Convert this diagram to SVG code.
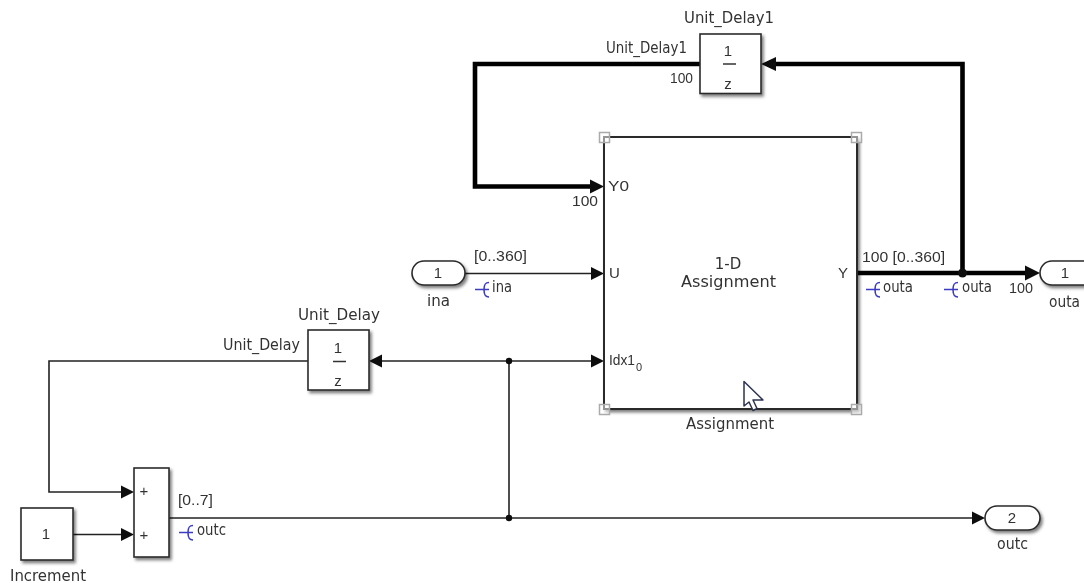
<svg xmlns="http://www.w3.org/2000/svg" width="1084" height="583" viewBox="0 0 1084 583">
<style>
text{font-family:"DejaVu Sans","Liberation Sans",sans-serif;font-size:15px;fill:#333}
.n{font-family:"Liberation Sans",Arial,sans-serif}
.m{text-anchor:middle}
.b{fill:#fff;stroke:#2a2a2a;stroke-width:1.6;filter:url(#sh)}
.w{fill:none;stroke:#222;stroke-width:1.6}
.t{fill:none;stroke:#000;stroke-width:4.600}
.j{fill:#111}
.h{fill:#fff;fill-opacity:.5;stroke:#aaa;stroke-width:1.5}
.e{fill:none;stroke:#3a3ac4;stroke-width:1.6}
.bar{stroke:#333;stroke-width:1.5}
</style>
<defs>
<filter id="sh" x="-20%" y="-20%" width="150%" height="150%"><feDropShadow dx="2" dy="2.500" stdDeviation="1.800" flood-color="#000" flood-opacity=".5"/></filter>
<filter id="soft" x="0" y="0" width="1084" height="583" filterUnits="userSpaceOnUse" primitiveUnits="userSpaceOnUse"><feGaussianBlur stdDeviation="0.5"/></filter>
<path id="log" class="e" d="M0 7.500H14M14 0.500C10 0.500 9 2.500 9 7.500C9 12.500 10 15 14 15"/>
</defs>
<rect width="1084" height="583" fill="#fff"/>
<g filter="url(#soft)">
<g id="connectors">
<path class="t" d="M700 64H475V186.500H596"/>
<path class="t" d="M770 64H962.500V273"/>
<path class="t" d="M857 273H1028"/>
<path class="w" d="M465 273.500H592"/>
<path class="w" d="M380 361H592"/>
<path class="w" d="M509 361V518"/>
<path class="w" d="M308 361H49V492H122"/>
<path class="w" d="M73 534.500H122"/>
<path class="w" d="M169 518H973"/>
<path class="j" d="M604 186.500l-14-7v14z"/>
<path class="j" d="M761 64l15-7v14z"/>
<path class="j" d="M1040 273l-15-7.500v15z"/>
<path class="j" d="M604 273.500l-13-6.500v13z"/>
<path class="j" d="M604 361l-13-6.500v13z"/>
<path class="j" d="M369 361l13-6.500v13z"/>
<path class="j" d="M134 492l-13-6.500v13z"/>
<path class="j" d="M134 534.500l-13-6.500v13z"/>
<path class="j" d="M985 518l-13-6.500v13z"/>
<circle class="j" cx="509" cy="361" r="3.200"/>
<circle class="j" cx="509" cy="518" r="3.200"/>
<circle class="j" cx="962.500" cy="273" r="4.500"/>
</g>
<g id="assignment">
<rect class="b" x="604" y="137" width="253" height="272" style="stroke-width:2"/>
<rect class="h" x="599.500" y="132.500" width="10" height="10"/>
<rect class="h" x="851.500" y="132.500" width="10" height="10"/>
<rect class="h" x="599.500" y="404.500" width="10" height="10"/>
<rect class="h" x="851.500" y="404.500" width="10" height="10"/>
<text class="n" x="608" y="191" textLength="21" lengthAdjust="spacingAndGlyphs">Y0</text>
<text class="n" x="609" y="278">U</text>
<text class="n" x="609" y="365" textLength="26" lengthAdjust="spacingAndGlyphs">Idx1</text>
<text class="n" x="636" y="371" style="font-size:11px">0</text>
<text class="n" x="838" y="278">Y</text>
<text class="m" x="728" y="269">1-D</text>
<text x="681" y="287" textLength="95" lengthAdjust="spacingAndGlyphs">Assignment</text>
<text x="686" y="429" textLength="88" lengthAdjust="spacingAndGlyphs">Assignment</text>
</g>
<g id="unit_delay1">
<rect class="b" x="700" y="34" width="61" height="59.500"/>
<text class="m n" x="728" y="56">1</text>
<path class="bar" d="M723 64H736"/>
<text class="m n" x="728" y="89">z</text>
<text x="684" y="23" textLength="90" lengthAdjust="spacingAndGlyphs">Unit_Delay1</text>
</g>
<g id="unit_delay">
<rect class="b" x="308" y="330" width="61" height="60"/>
<text class="m n" x="338" y="353">1</text>
<path class="bar" d="M333 361.500H346"/>
<text class="m n" x="338" y="386">z</text>
<text x="298" y="320" textLength="82" lengthAdjust="spacingAndGlyphs">Unit_Delay</text>
</g>
<g id="sum">
<rect class="b" x="134" y="468" width="35" height="89"/>
<text class="m n" x="144" y="496">+</text>
<text class="m n" x="144" y="540">+</text>
</g>
<g id="increment">
<rect class="b" x="21" y="508" width="52" height="52"/>
<text class="m n" x="46" y="539">1</text>
<text x="10" y="581" textLength="76" lengthAdjust="spacingAndGlyphs">Increment</text>
</g>
<g id="ina">
<rect class="b" x="412" y="261" width="53" height="24" rx="12"/>
<text class="m n" x="438" y="278">1</text>
<text x="427" y="306" textLength="23" lengthAdjust="spacingAndGlyphs">ina</text>
</g>
<g id="outa">
<rect class="b" x="1040" y="261" width="56" height="24" rx="12"/>
<text class="m n" x="1065" y="278">1</text>
<text x="1049" y="307" textLength="31" lengthAdjust="spacingAndGlyphs">outa</text>
</g>
<g id="outc">
<rect class="b" x="985" y="506" width="55" height="24" rx="12"/>
<text class="m n" x="1012" y="523">2</text>
<text x="997" y="549" textLength="31" lengthAdjust="spacingAndGlyphs">outc</text>
</g>
<g id="labels">
<text x="606" y="53" textLength="81" lengthAdjust="spacingAndGlyphs">Unit_Delay1</text>
<text class="n" x="670" y="83" textLength="23" lengthAdjust="spacingAndGlyphs">100</text>
<text class="n" x="572" y="206" textLength="26" lengthAdjust="spacingAndGlyphs">100</text>
<text class="n" x="474" y="261" textLength="53" lengthAdjust="spacingAndGlyphs">[0..360]</text>
<use href="#log" x="475" y="282"/>
<text x="492" y="292" textLength="20" lengthAdjust="spacingAndGlyphs">ina</text>
<text class="n" x="862" y="262" textLength="83" lengthAdjust="spacingAndGlyphs">100 [0..360]</text>
<use href="#log" x="866" y="282"/>
<text x="883" y="292" textLength="30" lengthAdjust="spacingAndGlyphs">outa</text>
<use href="#log" x="944" y="282"/>
<text x="962" y="292" textLength="30" lengthAdjust="spacingAndGlyphs">outa</text>
<text class="n" x="1009" y="293" textLength="24" lengthAdjust="spacingAndGlyphs">100</text>
<text x="223" y="350" textLength="77" lengthAdjust="spacingAndGlyphs">Unit_Delay</text>
<text class="n" x="178" y="505" textLength="35" lengthAdjust="spacingAndGlyphs">[0..7]</text>
<use href="#log" x="179" y="525"/>
<text x="197" y="535" textLength="29" lengthAdjust="spacingAndGlyphs">outc</text>
</g>
<g id="cursor">
<path d="M744 381.500V406L749 402L753 410.500L757 408.500L753 400H763Z" fill="#fff" stroke="#2b3350" stroke-width="1.500" stroke-linejoin="round"/>
</g>
</g>
</svg>
